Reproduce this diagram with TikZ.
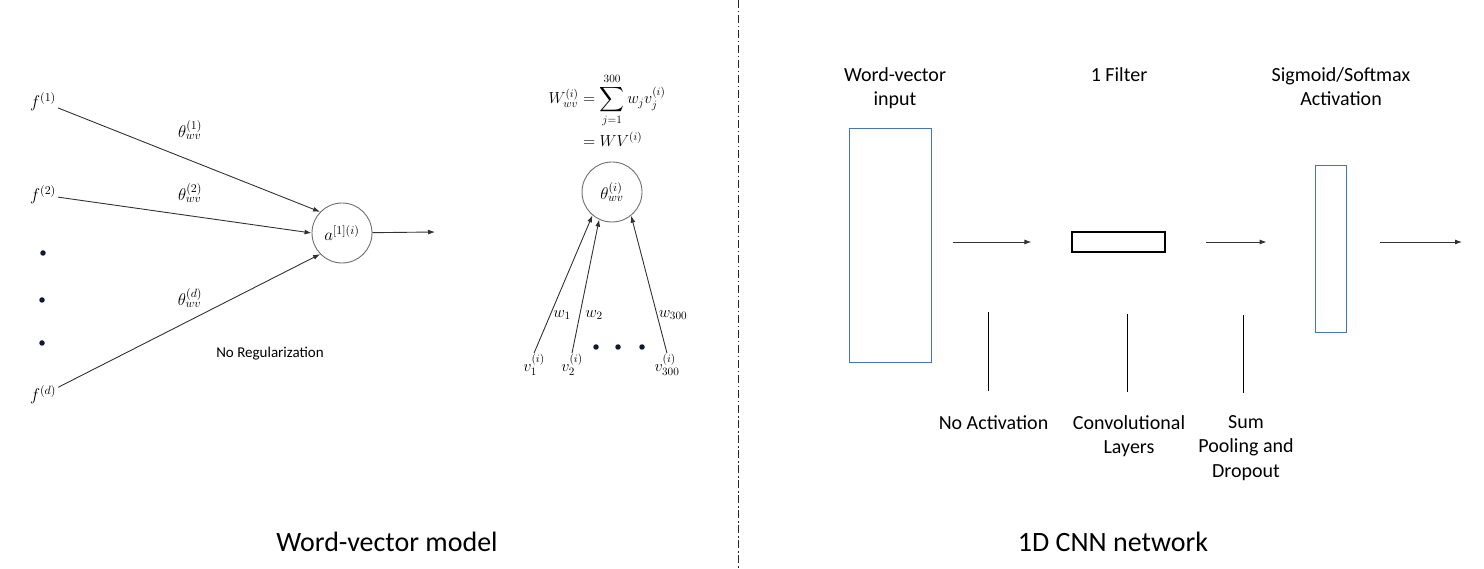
\RequirePackage{fix-cm}
\documentclass[tikz,border=0pt]{standalone}
\usepackage{amsmath}
\usepackage{fontspec}
\setmainfont{Carlito}
\usetikzlibrary{
    arrows.meta,
    positioning,
    calc
}
\definecolor{lineGray}{RGB}{50, 50, 50}
\definecolor{ringGray}{RGB}{110, 110, 110}
\definecolor{boxBlue}{RGB}{68, 114, 196}
\definecolor{dotNavy}{RGB}{16, 24, 56}
\definecolor{textBlack}{RGB}{0, 0, 0}
\def\picW{1484}
\def\picH{569}
\tikzset{
    neuron/.style={
        circle,
        draw=ringGray,
        line width=0.9pt,
        minimum size=60pt,
        inner sep=0pt,
        font=\fontsize{17}{20}\selectfont
    },
    mathLbl/.style={
        font=\fontsize{17}{20}\selectfont,
        text=textBlack,
        inner sep=2pt
    },
    smallMath/.style={
        font=\fontsize{16}{19}\selectfont,
        text=textBlack,
        inner sep=1pt
    },
    dotmark/.style={
        circle,
        fill=dotNavy,
        inner sep=0pt,
        minimum size=5.5pt
    },
    wire/.style={
        draw=lineGray,
        line width=0.9pt,
        -{Latex[length=7pt, width=5pt]}
    },
    vecBox/.style={
        rectangle,
        draw=boxBlue,
        line width=0.8pt,
        inner sep=0pt
    },
    filterBox/.style={
        rectangle,
        draw=textBlack,
        line width=1.1pt,
        inner sep=0pt
    },
    capText/.style={
        font=\fontsize{20}{24.5}\selectfont,
        text=textBlack,
        align=center,
        inner sep=0pt
    },
    noteText/.style={
        font=\fontsize{15}{18}\selectfont,
        text=textBlack,
        inner sep=0pt
    },
    titleText/.style={
        font=\fontsize{28}{34}\selectfont,
        text=textBlack,
        inner sep=0pt
    },
    tickLine/.style={
        draw=textBlack,
        line width=0.9pt
    },
    divider/.style={
        draw=textBlack!85,
        line width=1pt,
        dash pattern=on 8pt off 3pt on 1.5pt off 2.5pt
    }
}

\begin{document}
\begin{tikzpicture}[x=1pt, y=-1pt]
    \useasboundingbox (0,0) rectangle (\picW, \picH);

    % Word-vector model
    \node[neuron] (act) at (342, 233) {$a^{[1](i)}$};
    \node[mathLbl] (f1) at (43, 102) {$f^{(1)}$};
    \node[mathLbl] (f2) at (43, 195) {$f^{(2)}$};
    \node[mathLbl] (fd) at (43, 395) {$f^{(d)}$};
    \node[dotmark] (dotA) at (43, 253) {};
    \node[dotmark] (dotB) at (42, 300) {};
    \node[dotmark] (dotC) at (42, 343) {};

    \draw[wire] (f1) -- (act.136);
    \draw[wire] (f2) -- (act.180);
    \draw[wire] (fd) -- (act.224);
    \coordinate (actOut) at (435, 232);
    \draw[wire] (act) -- (actOut);

    \node[mathLbl] at (190, 130) {$\theta_{wv}^{(1)}$};
    \node[mathLbl] at (190, 193) {$\theta_{wv}^{(2)}$};
    \node[mathLbl] at (190, 298) {$\theta_{wv}^{(d)}$};
    \node[noteText] at (270, 354) {No Regularization};

    % Weighted word vectors
    \node[smallMath] (sumEq) at (607, 113) {$\begin{aligned}
        W_{wv}^{(i)} &= \sum_{j=1}^{300} w_j v_j^{(i)}\\
        &= WV^{(i)}
    \end{aligned}$};
    \node[neuron] (theta) at (612, 192) {$\theta_{wv}^{(i)}$};
    \node[smallMath] (v1) at (534, 365) {$v_1^{(i)}$};
    \node[smallMath] (v2) at (572, 365) {$v_2^{(i)}$};
    \node[smallMath] (v300) at (667, 365) {$v_{300}^{(i)}$};
    \node[dotmark] (dotD) at (596, 347) {};
    \node[dotmark] (dotE) at (618, 347) {};
    \node[dotmark] (dotF) at (642, 347) {};

    \draw[wire] (v1.north) -- (theta.230);
    \draw[wire] (v2.north) -- (theta.245);
    \draw[wire] (v300.north) -- (theta.309);

    \node[smallMath] at (562, 315) {$w_1$};
    \node[smallMath] at (594, 315) {$w_2$};
    \node[smallMath] at (673, 315) {$w_{300}$};

    \draw[divider] (738, 0) -- (738, \picH);

    % 1D CNN network
    \node[vecBox, minimum width=82pt, minimum height=234pt] (wvIn) at (890, 245) {};
    \node[filterBox, minimum width=93pt, minimum height=20pt] (filter) at (1118.5, 242) {};
    \node[vecBox, minimum width=31pt, minimum height=167pt] (sigBox) at (1330.5, 248.5) {};
    \coordinate (cnnOut) at (1462, 242);

    \draw[wire, shorten <=22pt, shorten >=40pt] (wvIn.east |- filter.west) -- (filter.west);
    \draw[wire, shorten <=40pt, shorten >=48pt] (filter.east) -- (filter.east -| sigBox.west);
    \draw[wire, shorten <=34pt] (sigBox.east |- cnnOut) -- (cnnOut);

    \node[capText, anchor=north] (inLbl) at (895, 67) {Word-vector\\input};
    \node[capText, anchor=base] (filtLbl) at (1119, 82) {1 Filter};
    \node[capText, anchor=north] (sigLbl) at (1341, 67) {Sigmoid/Softmax\\Activation};

    \node[capText, anchor=north] (noAct) at (993.5, 415) {No Activation};
    \node[capText, anchor=north] (convLbl) at (1129, 415) {Convolutional\\Layers};
    \node[capText, anchor=north] (poolLbl) at (1246, 415) {Sum\\Pooling and\\Dropout};

    \draw[tickLine] (noAct.north) ++(-5, -24) -- ++(0, -79);
    \draw[tickLine] (convLbl.north) ++(-2, -23) -- ++(0, -78);
    \draw[tickLine] (poolLbl.north) ++(-3, -22) -- ++(0, -78);

    \node[titleText, anchor=base] (leftTitle) at (387, 551) {Word-vector model};
    \node[titleText, anchor=base] (rightTitle) at (1113, 551) {1D CNN network};
\end{tikzpicture}
\end{document}
